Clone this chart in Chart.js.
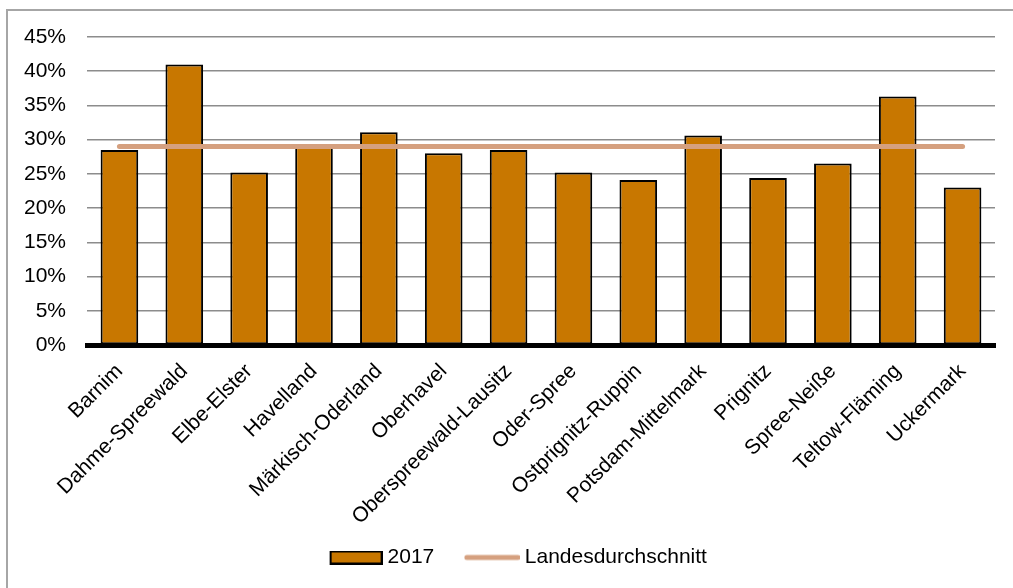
<!DOCTYPE html>
<html>
<head>
<meta charset="utf-8">
<script src="https://cdn.jsdelivr.net/npm/chart.js@4.4.1/dist/chart.umd.min.js"></script>
<style>
  html, body { margin: 0; padding: 0; background: #fff; overflow: hidden; }
  #frame {
    position: absolute; left: 6px; top: 9px; width: 1100px; height: 700px;
    border-left: 2px solid #a6a6a6; border-top: 2px solid #a6a6a6;
  }
  #wrap { position: absolute; left: 0; top: 0; width: 1013px; height: 588px; }
</style>
</head>
<body>
<div id="frame"></div>
<div id="wrap"><canvas id="chart" width="1013" height="588"></canvas></div>
<script>
// Kreise in Brandenburg
var kreise = ["Barnim", "Dahme-Spreewald", "Elbe-Elster", "Havelland", "Märkisch-Oderland",
  "Oberhavel", "Oberspreewald-Lausitz", "Oder-Spree", "Ostprignitz-Ruppin",
  "Potsdam-Mittelmark", "Prignitz", "Spree-Neiße", "Teltow-Fläming", "Uckermark"];
var werte2017 = [28.5, 41.0, 25.2, 29.0, 31.1, 28.0, 28.5, 25.2, 24.1, 30.6, 24.4, 26.5, 36.3, 23.0];
var landesschnitt = [29.0, 29.0, 29.0, 29.0, 29.0, 29.0, 29.0, 29.0, 29.0, 29.0, 29.0, 29.0, 29.0, 29.0];
var yTicks = [0, 5, 10, 15, 20, 25, 30, 35, 40, 45];

var BAR_COLOR = "#c87700";
var LINE_COLOR = "#d5a07f";

Chart.defaults.font.family = "'Liberation Sans', Arial, sans-serif";
Chart.defaults.font.size = 21;
Chart.defaults.color = "#000";

// legend symbols as small canvases, so the gap to the text is tighter (like Excel)
function makeSymbol(kind) {
  var c = document.createElement("canvas");
  c.width = 56;
  c.height = 14;
  var g = c.getContext("2d");
  if (kind === "bar") {
    g.fillStyle = BAR_COLOR;
    g.fillRect(4, 1, 51, 12);
    g.strokeStyle = "#000";
    g.lineWidth = 2;
    g.strokeRect(4, 1, 51, 12);
  } else {
    g.strokeStyle = LINE_COLOR;
    g.lineWidth = 5;
    g.lineCap = "round";
    g.beginPath();
    g.moveTo(3, 7);
    g.lineTo(54, 7);
    g.stroke();
  }
  return c;
}
var barSymbol = makeSymbol("bar");
var lineSymbol = makeSymbol("line");

// move the legend to where it sits in the original (right of centre, a bit higher)
var legendShift = {
  id: "legendShift",
  afterLayout: function (chart) {
    var lg = chart.legend;
    lg.left += 22;
    lg.right += 22;
    lg.top -= 25;
    lg.bottom -= 25;
  }
};

var ctx = document.getElementById("chart").getContext("2d");
var myChart = new Chart(ctx, {
  type: "bar",
  data: {
    labels: kreise,
    datasets: [
      {
        label: "2017",
        data: werte2017,
        backgroundColor: BAR_COLOR,
        borderColor: "#000",
        borderWidth: 2,
        borderSkipped: false,
        categoryPercentage: 1,
        barPercentage: 0.58,
        order: 1
      },
      {
        type: "line",
        label: "Landesdurchschnitt",
        data: landesschnitt,
        borderColor: LINE_COLOR,
        backgroundColor: LINE_COLOR,
        borderWidth: 5,
        borderCapStyle: "round",
        pointRadius: 0,
        fill: false,
        order: 0
      }
    ]
  },
  plugins: [legendShift],
  options: {
    responsive: false,
    animation: false,
    devicePixelRatio: 1,
    layout: { padding: { top: 37, left: 0, right: 18, bottom: -15 } },
    plugins: {
      tooltip: { enabled: false },
      legend: {
        position: "bottom",
        labels: {
          usePointStyle: true,
          pointStyleWidth: 45,
          boxHeight: 14,
          padding: 35,
          color: "#000",
          sort: function (a, b) { return a.datasetIndex - b.datasetIndex; },
          generateLabels: function (chart) {
            var items = Chart.defaults.plugins.legend.labels.generateLabels(chart);
            items.forEach(function (it) {
              it.pointStyle = it.datasetIndex === 0 ? barSymbol : lineSymbol;
            });
            return items;
          }
        }
      }
    },
    scales: {
      x: {
        grid: { display: false },
        border: { display: true, color: "#000", width: 5 },
        ticks: { minRotation: 45, maxRotation: 45, autoSkip: false, padding: 6 },
        afterFit: function (scale) { scale.height = 192; }
      },
      y: {
        min: 0,
        max: 45,
        afterBuildTicks: function (scale) {
          scale.ticks = yTicks.map(function (v) { return { value: v }; });
        },
        grid: { color: "#8c8c8c", lineWidth: 1.5, drawTicks: false },
        border: { display: false },
        ticks: {
          padding: 21,
          callback: function (v) { return v + "%"; }
        },
        afterFit: function (scale) { scale.width = 87; }
      }
    }
  }
});
</script>
</body>
</html>
